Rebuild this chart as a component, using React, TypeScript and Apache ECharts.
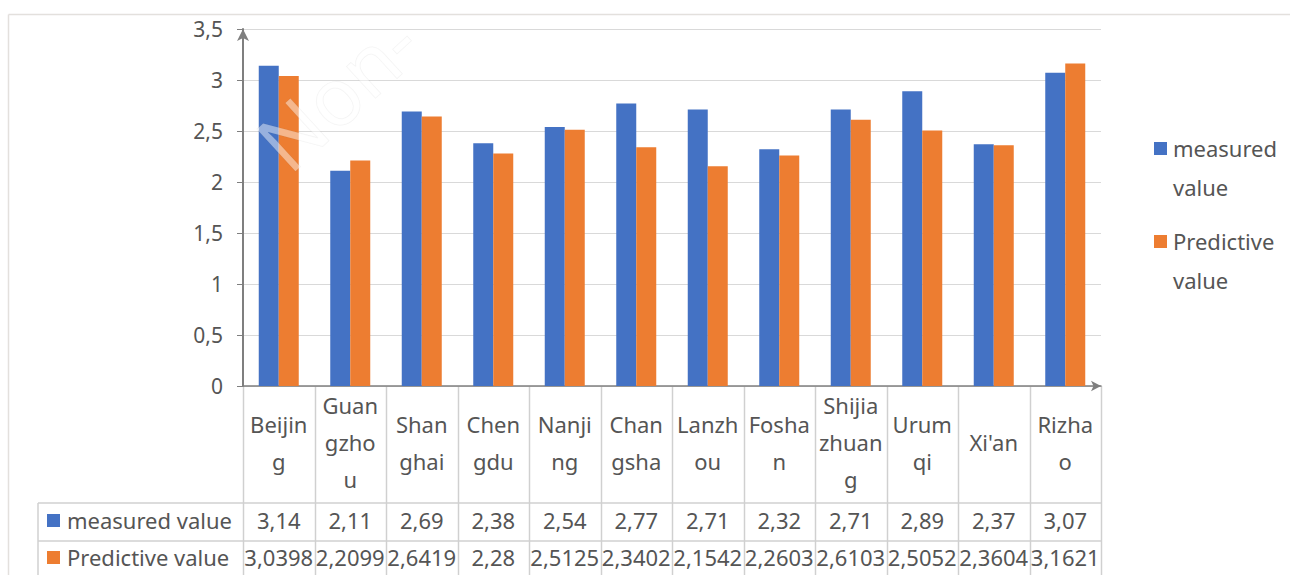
import React, { useEffect, useRef } from "react";
import * as echarts from "echarts";

const categories = ["Beijing", "Guangzhou", "Shanghai", "Chengdu", "Nanjing", "Changsha", "Lanzhou", "Foshan", "Shijiazhuang", "Urumqi", "Xi'an", "Rizhao"];
const headerLabels = ["Beijin\ng", "Guan\ngzho\nu", "Shan\nghai", "Chen\ngdu", "Nanji\nng", "Chan\ngsha", "Lanzh\nou", "Fosha\nn", "Shijia\nzhuan\ng", "Urum\nqi", "Xi'an", "Rizha\no"];
const measured = [3.14, 2.11, 2.69, 2.38, 2.54, 2.77, 2.71, 2.32, 2.71, 2.89, 2.37, 3.07];
const predictive = [3.0398, 2.2099, 2.6419, 2.28, 2.5125, 2.3402, 2.1542, 2.2603, 2.6103, 2.5052, 2.3604, 3.1621];
const seriesNames = ["measured value", "Predictive value"];
const legendLabels = ["measured\nvalue", "Predictive\nvalue"];
const colors = ["#4472C4", "#ED7D31"];
const watermark = "Non-";

const FONT = "'Noto Sans', 'Open Sans', sans-serif";
const TEXT = "#555555";
const LINE = "#d0d0d0";
const fmt = (v: number) => String(v).replace(".", ",");

export default function App() {
  const ref = useRef<HTMLDivElement>(null);
  useEffect(() => {
    const chart = echarts.init(ref.current!, null, { renderer: "svg" });
    const gridLeft = 243, gridTop = 29, gridW = 858, gridH = 357;
    chart.setOption({
      animation: false,
      backgroundColor: "#ffffff",
      grid: { left: gridLeft, top: gridTop, width: gridW, height: gridH, containLabel: false, outerBoundsMode: "none" },
      xAxis: {
        type: "category",
        data: categories,
        axisLabel: { show: false },
        axisTick: { show: false },
        axisLine: { show: true, symbol: ["none", "arrow"], symbolSize: [8, 10], lineStyle: { color: "#7f7f7f", width: 1.5 } },
      },
      yAxis: {
        type: "value",
        min: 0,
        max: 3.5,
        interval: 0.5,
        axisLine: { show: true, symbol: ["none", "arrow"], symbolSize: [9, 12], lineStyle: { color: "#7f7f7f", width: 2 } },
        axisTick: { show: true, length: 6, lineStyle: { color: "#7f7f7f" } },
        axisLabel: { formatter: (v: number) => fmt(v), color: TEXT, fontSize: 21, fontFamily: FONT, margin: 20 },
        splitLine: { lineStyle: { color: "#d9d9d9", width: 1 } },
      },
      series: [
        { name: seriesNames[0], type: "bar", data: measured, barWidth: 20, barGap: "0%", itemStyle: { color: colors[0] } },
        { name: seriesNames[1], type: "bar", data: predictive, barWidth: 20, barGap: "0%", itemStyle: { color: colors[1] } },
      ],
    });

    const band = gridW / categories.length;
    const centers = categories.map((c) => chart.convertToPixel({ xAxisIndex: 0 }, c) as number);
    const axisY = gridTop + gridH;
    const row1 = 503, row2 = 541, bottom = 580;
    const tableLeft = 38;
    const right = gridLeft + gridW;
    const els: any[] = [];
    const ln = (x1: number, y1: number, x2: number, y2: number, stroke = LINE) =>
      els.push({ type: "line", shape: { x1, y1, x2, y2 }, style: { stroke, lineWidth: 1.5 }, silent: true });

    // outer chart border
    ln(8.5, 14.5, 1290, 14.5, "#e3e0dd");
    ln(8.5, 14.5, 8.5, 575, "#e3e0dd");

    // watermark (semi-transparent white over the chart)
    els.push({
      type: "text", x: 242, y: 124, rotation: 0.74, z: 100,
      style: { text: watermark, fontSize: 80, fontFamily: FONT, fill: "rgba(255,255,255,0.45)", stroke: "rgba(0,0,0,0.05)", lineWidth: 1, textAlign: "left", textVerticalAlign: "alphabetic" },
      silent: true,
    });

    // table lines
    for (let i = 0; i <= categories.length; i++) {
      const x = Math.round(gridLeft + i * band) + 0.5;
      ln(x, axisY, x, bottom);
    }
    ln(tableLeft, row1, right, row1);
    ln(tableLeft, row2, right, row2);
    ln(tableLeft, row1, tableLeft, bottom);

    // header labels
    headerLabels.forEach((t, i) => {
      els.push({ type: "text", x: centers[i], y: 442, style: { text: t, fontSize: 22, lineHeight: 37, fontFamily: FONT, fill: TEXT, textAlign: "center", textVerticalAlign: "middle" }, silent: true });
    });

    // data rows
    const rows = [measured, predictive];
    const rowY = [520, 557];
    rows.forEach((vals, r) => {
      els.push({ type: "rect", shape: { x: 47, y: rowY[r] - 6, width: 13, height: 13 }, style: { fill: colors[r] }, silent: true });
      els.push({ type: "text", x: 67, y: rowY[r], style: { text: seriesNames[r], fontSize: 22, fontFamily: FONT, fill: TEXT, textAlign: "left", textVerticalAlign: "middle" }, silent: true });
      vals.forEach((v, i) => {
        els.push({ type: "text", x: centers[i], y: rowY[r], style: { text: fmt(v), fontSize: 22, fontFamily: FONT, fill: TEXT, textAlign: "center", textVerticalAlign: "middle" }, silent: true });
      });
    });

    // legend
    const legY = [148, 241];
    legendLabels.forEach((t, r) => {
      els.push({ type: "rect", shape: { x: 1154, y: legY[r] - 6, width: 13, height: 13 }, style: { fill: colors[r] }, silent: true });
      els.push({ type: "text", x: 1173, y: legY[r] - 19.5, style: { text: t, fontSize: 22, lineHeight: 39, fontFamily: FONT, fill: TEXT, textAlign: "left", textVerticalAlign: "top" }, silent: true });
    });

    chart.setOption({ graphic: { elements: els } });
    return () => chart.dispose();
  }, []);
  return <div ref={ref} style={{ position: "absolute", left: 0, top: 0, width: 1290, height: 575 }} />;
}
